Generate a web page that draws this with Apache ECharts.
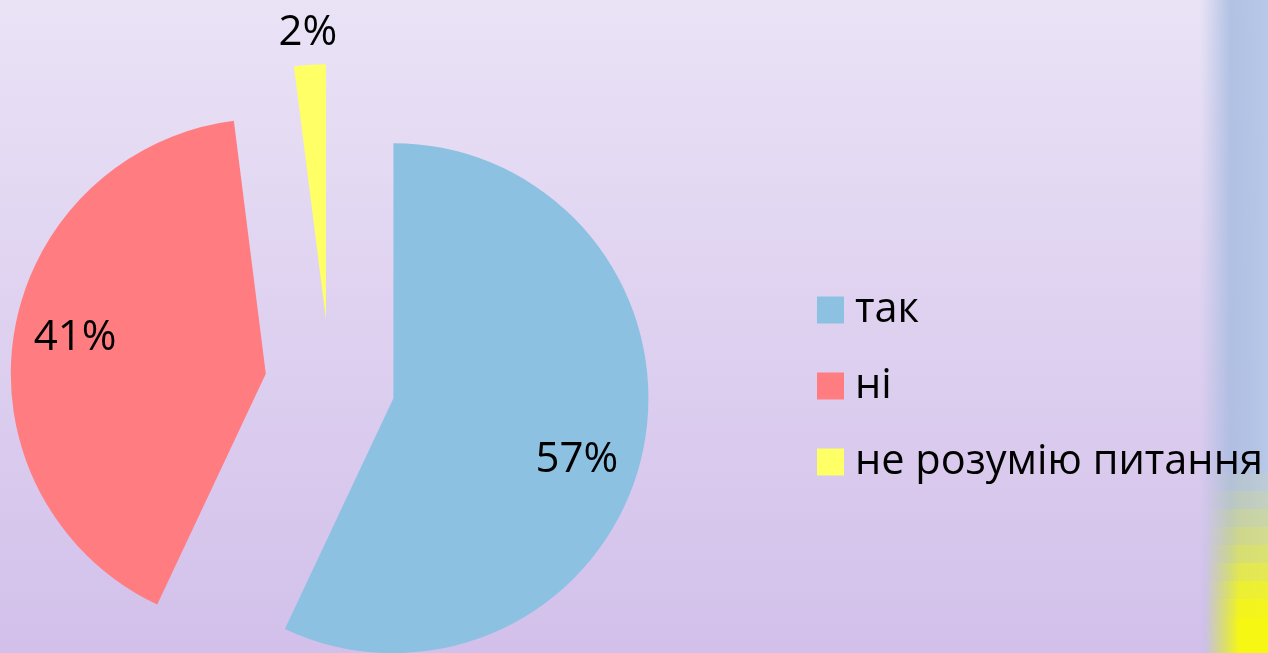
<!DOCTYPE html>
<html>
<head>
<meta charset="utf-8">
<script src="https://cdn.jsdelivr.net/npm/echarts@6/dist/echarts.min.js"></script>
<style>
  html, body { margin: 0; padding: 0; }
  #chart { width: 1268px; height: 653px; }
</style>
</head>
<body>
<div id="chart"></div>
<script>
// дані діаграми
const categories = ['так', 'ні', 'не розумію питання'];
const values = [57, 41, 2];
const colors = ['#8CC1E2', '#FF7C80', '#FFFF66'];

const center = [330, 384];
const explode = 65;

const chart = echarts.init(document.getElementById('chart'));

function pieData(labelFor, colorFor) {
    return categories.map((name, i) => ({
        name: name,
        value: values[i],
        selected: true,
        itemStyle: { color: colorFor(i) },
        label: labelFor(i)
    }));
}

// зміщення підписів (як у PowerPoint)
const labelOffsets = [[-5, 20], [0, -6], [0, 0]];

// декор праворуч: синя смуга + жовта пляма внизу
const decor = [
    {
        type: 'rect', z: -1, silent: true,
        shape: { x: 1200, y: 0, width: 68, height: 653 },
        style: {
            fill: {
                type: 'linear', x: 0, y: 0, x2: 1, y2: 0,
                colorStops: [
                    { offset: 0, color: 'rgba(168,188,224,0)' },
                    { offset: 0.45, color: 'rgba(168,188,224,0.85)' },
                    { offset: 1, color: 'rgba(184,200,232,1)' }
                ]
            }
        }
    }
];
const yellowAlpha = [0.08, 0.18, 0.3, 0.42, 0.55, 0.7, 0.85, 0.95, 1, 1];
yellowAlpha.forEach((a, k) => {
    decor.push({
        type: 'rect', z: -1, silent: true,
        shape: { x: 1205, y: 473 + k * 18, width: 63, height: 18 },
        style: {
            fill: {
                type: 'linear', x: 0, y: 0, x2: 1, y2: 0,
                colorStops: [
                    { offset: 0, color: 'rgba(247,247,20,0)' },
                    { offset: 0.55, color: 'rgba(247,247,20,' + a + ')' },
                    { offset: 1, color: 'rgba(247,247,20,' + a + ')' }
                ]
            }
        }
    });
});

chart.setOption({
    backgroundColor: {
        type: 'linear', x: 0, y: 0, x2: 0, y2: 1,
        colorStops: [
            { offset: 0, color: '#EAE3F6' },
            { offset: 0.5, color: '#DED1F0' },
            { offset: 1, color: '#D2C0EA' }
        ]
    },
    textStyle: { fontFamily: 'Open Sans' },
    graphic: decor,
    legend: {
        orient: 'vertical',
        left: 812,
        top: 284,
        icon: 'rect',
        itemWidth: 27,
        itemHeight: 27,
        itemGap: 34,
        selectedMode: false,
        data: categories,
        textStyle: {
            fontFamily: 'Open Sans',
            fontSize: 41.5,
            lineHeight: 40,
            color: '#000',
            padding: [0, 0, 0, 6]
        }
    },
    series: [
        {
            type: 'pie',
            center: center,
            radius: [0, 255],
            startAngle: 90,
            clockwise: true,
            selectedMode: 'multiple',
            selectedOffset: explode,
            avoidLabelOverlap: false,
            silent: true,
            itemStyle: { borderWidth: 0 },
            label: { show: false },
            labelLine: { show: false },
            data: pieData(() => ({ show: false }), i => colors[i])
        },
        {
            // підписи всередині секторів
            type: 'pie',
            center: center,
            radius: [130, 250],
            startAngle: 90,
            selectedMode: 'multiple',
            selectedOffset: explode,
            avoidLabelOverlap: false,
            silent: true,
            itemStyle: { borderWidth: 0 },
            labelLine: { show: false },
            labelLayout: params => ({
                dx: labelOffsets[params.dataIndex][0],
                dy: labelOffsets[params.dataIndex][1]
            }),
            data: pieData(i => ({
                show: i < 2,
                position: 'inside',
                formatter: '{c}%',
                fontFamily: 'Open Sans',
                fontSize: 42,
                color: '#000'
            }), () => 'rgba(0,0,0,0)')
        },
        {
            // підпис над вузьким сектором
            type: 'pie',
            center: center,
            radius: [274, 294],
            startAngle: 90,
            selectedMode: 'multiple',
            selectedOffset: explode,
            avoidLabelOverlap: false,
            silent: true,
            itemStyle: { borderWidth: 0 },
            labelLine: { show: false },
            data: pieData(i => ({
                show: i === 2,
                position: 'inside',
                formatter: '{c}%',
                fontFamily: 'Open Sans',
                fontSize: 42,
                color: '#000'
            }), () => 'rgba(0,0,0,0)')
        }
    ]
});
</script>
</body>
</html>
